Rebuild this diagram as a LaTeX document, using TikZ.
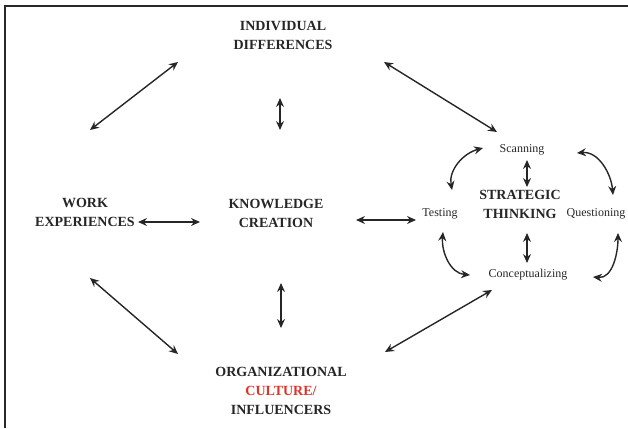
\documentclass[tikz,border=0pt]{standalone}
\usepackage{fontspec}
\setmainfont{Liberation Serif}
\usetikzlibrary{arrows.meta}
\definecolor{culturered}{RGB}{222,52,40}
\definecolor{framegray}{RGB}{40,40,40}
\tikzset{
  big/.style={font=\fontsize{14}{19}\selectfont\bfseries, align=center, inner sep=0pt, text=black!85},
  small/.style={font=\fontsize{12}{14}\selectfont, inner sep=0pt, text=black!85},
  biarrow/.style={{Stealth[length=9pt,width=8pt,inset=3pt]}-{Stealth[length=9pt,width=8pt,inset=3pt]}, line width=1.4pt, black!85},
}
\begin{document}
\begin{tikzpicture}[x=1pt,y=-1pt]
\useasboundingbox (0,0) rectangle (628,428);
\draw[framegray, line width=1.8pt] (5,428) -- (5,6) -- (628,6);

\node[big] (ID) at (283,35) {INDIVIDUAL\\DIFFERENCES};
\node[big] (WE) at (85,212) {WORK\\EXPERIENCES};
\node[big] (KC) at (276,213) {KNOWLEDGE\\CREATION};
\node[big] (OC) at (281,391) {ORGANIZATIONAL\\\textcolor{culturered}{CULTURE/}\\INFLUENCERS};
\node[big] (ST) at (520,204) {STRATEGIC\\THINKING};
\node[small] (Scan) at (522,150) {Scanning};
\node[small] (Test) at (440,214) {Testing};
\node[small] (Quest) at (596,214) {Questioning};
\node[small] (Conc) at (528,275) {Conceptualizing};

% straight connectors
\draw[biarrow] ([xshift=-105pt,yshift=-27pt]ID.center) -- ([xshift=5pt,yshift=82pt]WE.center);
\draw[biarrow] ([xshift=-3pt,yshift=-63pt]ID.center) -- ([xshift=4pt,yshift=83pt]KC.center);
\draw[biarrow] ([xshift=101pt,yshift=-27pt]ID.center) -- ([xshift=-25pt,yshift=18pt]Scan.center);
\draw[biarrow] ([xshift=53pt,yshift=-10pt]WE.center) -- ([xshift=-76pt,yshift=-9pt]KC.center);
\draw[biarrow] ([xshift=80pt,yshift=-7pt]KC.center) -- ([xshift=-24pt,yshift=-6pt]Test.center);
\draw[biarrow] ([xshift=5pt,yshift=-70pt]KC.center) -- ([xshift=0pt,yshift=63pt]OC.center);
\draw[biarrow] ([xshift=5pt,yshift=-66pt]WE.center) -- ([xshift=-103pt,yshift=37pt]OC.center);
\draw[biarrow] ([xshift=104pt,yshift=39pt]OC.center) -- ([xshift=-36pt,yshift=-15pt]Conc.center);
\draw[biarrow] ([xshift=5pt,yshift=-10pt]Scan.center) -- ([xshift=7pt,yshift=17pt]ST.center);
\draw[biarrow] ([xshift=7pt,yshift=-29pt]ST.center) -- ([xshift=-1pt,yshift=12pt]Conc.center);

% curved connectors of the cycle
\draw[biarrow] ([xshift=12pt,yshift=24pt]Test.center) to[out=100,in=195] ([xshift=-39pt,yshift=2pt]Scan.center);
\draw[biarrow] ([xshift=55pt,yshift=-3pt]Scan.center) to[out=5,in=95] ([xshift=17pt,yshift=19pt]Quest.center);
\draw[biarrow] ([xshift=22pt,yshift=-19pt]Quest.center) to[out=-90,in=-5] ([xshift=65pt,yshift=-2pt]Conc.center);
\draw[biarrow] ([xshift=3pt,yshift=-18pt]Test.center) to[out=-95,in=175] ([xshift=-58pt,yshift=0pt]Conc.center);
\end{tikzpicture}
\end{document}
